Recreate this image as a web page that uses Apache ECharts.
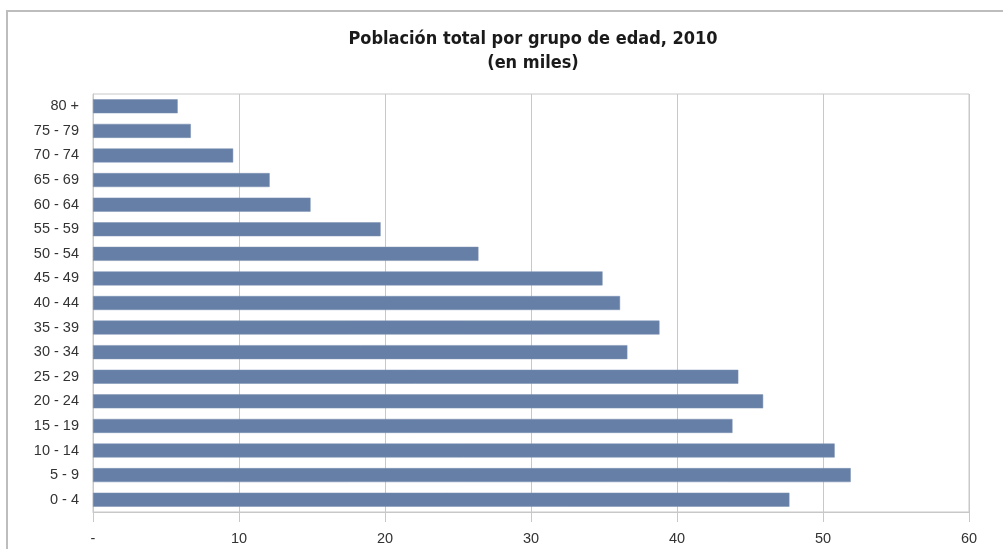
<!DOCTYPE html>
<html>
<head>
<meta charset="utf-8">
<script src="https://cdn.jsdelivr.net/npm/echarts@6/dist/echarts.min.js"></script>
<style>
  html, body { margin: 0; padding: 0; background: #fff; }
  #chart { width: 1003px; height: 549px; }
</style>
</head>
<body>
<div id="chart"></div>
<script>
var groups = ['0 - 4', '5 - 9', '10 - 14', '15 - 19', '20 - 24', '25 - 29', '30 - 34', '35 - 39',
  '40 - 44', '45 - 49', '50 - 54', '55 - 59', '60 - 64', '65 - 69', '70 - 74', '75 - 79', '80 +']
var poblacion = [47.7, 51.9, 50.8, 43.8, 45.9, 44.2, 36.6, 38.8,
  36.1, 34.9, 26.4, 19.7, 14.9, 12.1, 9.6, 6.7, 5.8]

var chart = echarts.init(document.getElementById('chart'))

chart.setOption({
  animation: false,
  title: {
    text: 'Población total por grupo de edad, 2010\n(en miles)',
    left: 528,
    textAlign: 'center',
    top: 22,
    textStyle: {
      fontFamily: '"Liberation Sans Narrow", "DejaVu Sans Condensed", sans-serif',
      fontSize: 18,
      fontWeight: 'bold',
      color: '#1a1a1a',
      lineHeight: 24
    }
  },
  graphic: [{
    type: 'rect',
    silent: true,
    shape: { x: 7, y: 11, width: 1100, height: 700 },
    style: { fill: 'none', stroke: '#bdbdbd', lineWidth: 2 }
  }],
  grid: {
    left: 93,
    right: 34,
    top: 94,
    bottom: 37,
    show: true,
    borderColor: '#c8c8c8',
    borderWidth: 1
  },
  xAxis: {
    type: 'value',
    min: 0,
    max: 60,
    interval: 10,
    axisLine: { show: true, lineStyle: { color: '#c8c8c8' } },
    axisTick: { show: true, length: 10, lineStyle: { color: '#c8c8c8' } },
    splitLine: { show: true, lineStyle: { color: '#c8c8c8' } },
    axisLabel: {
      margin: 19,
      fontSize: 14.5,
      color: '#333',
      fontFamily: '"Liberation Sans", Arial, sans-serif',
      formatter: function (v) { return v === 0 ? '-' : v }
    }
  },
  yAxis: {
    type: 'category',
    data: groups,
    axisLine: { show: true, lineStyle: { color: '#c8c8c8' } },
    axisTick: { show: false },
    axisLabel: {
      margin: 14,
      fontSize: 14.5,
      color: '#333',
      fontFamily: '"Liberation Sans", Arial, sans-serif'
    }
  },
  series: [{
    type: 'bar',
    data: poblacion,
    barWidth: 14,
    itemStyle: { color: '#667fa6', borderColor: '#7a90b3', borderWidth: 0.5 }
  }]
})
</script>
</body>
</html>
